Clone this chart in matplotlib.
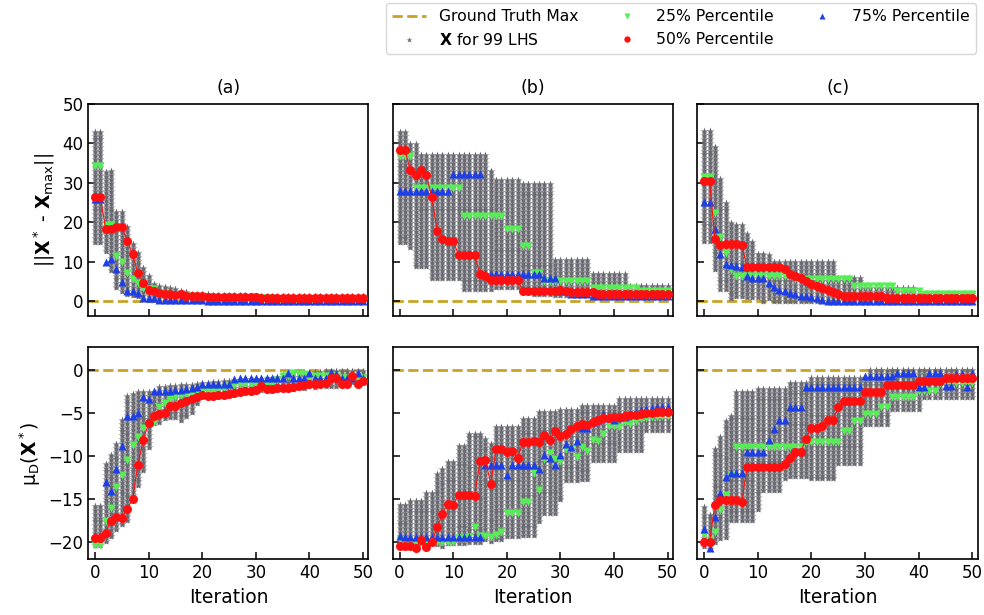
import numpy as np
import matplotlib
matplotlib.use("Agg")
import matplotlib.pyplot as plt

# iterations 0..50
iters = list(range(51))

# ---- top row: ||X* - X_max|| ----
a_top_lo = [14.9, 14.9, 12.3, 7.6, 2.6, 2.1, 1.5, 0.8, 0.5, 0.3, 0.2, 0.1] + [0.0] * 39
a_top_hi = [43.0, 43.0, 32.7, 33.0, 22.5, 22.5, 18.7, 14.5, 12.3, 8.5, 6.4, 4.3, 3.8, 3.6, 3.4, 3.0,
            2.6, 2.4, 1.9, 1.8, 1.7, 1.7, 1.6, 1.6, 1.6, 1.5, 1.5, 1.5, 1.5, 1.4, 1.4, 1.4, 1.4, 1.4,
            1.3, 1.3, 1.3, 1.3, 1.3, 1.3, 1.3, 1.2, 1.2, 1.2, 1.2, 1.2, 1.2, 1.2, 1.2, 1.2, 1.2]
a_top_p25 = [34.2, 34.2, 19.4, 19.4, 11.5, 10.0, 7.2, 5.5, 4.7, 3.4, 3.0, 3.0, 2.1, 1.9, 1.7, 1.5,
             1.4, 1.3, 1.2, 1.1, 1.0, 1.0, 0.9, 0.9, 0.9, 0.8, 0.8, 0.8, 0.8, 0.7, 0.7, 0.7, 0.7, 0.7,
             0.6, 0.6, 0.6, 0.6, 0.6, 0.6, 0.5, 0.5, 0.5, 0.5, 0.5, 0.5, 0.5, 0.5, 0.5, 0.5, 0.5]
a_top_p50 = [26.4, 26.4, 18.3, 18.3, 18.9, 18.9, 15.3, 11.9, 7.2, 4.7, 2.8, 2.6, 2.1, 1.9, 1.7, 1.5,
             1.7, 1.3, 1.3, 1.2, 1.2] + [1.1] * 10 + [0.9] * 10 + [0.7] * 10
a_top_p75 = [25.9, 25.9, 10.0, 10.6, 8.1, 4.9, 2.6, 2.6, 2.1, 0.85, 0.85, 0.7] + [0.2] * 9 + [0.1] * 15 + [0.0] * 15

b_top_lo = [14.9, 14.9, 13.0, 8.5, 8.5, 8.5] + [5.1] * 6 + [2.7] * 13 + [1.0] * 26
b_top_hi = [42.9, 42.9, 39.8, 39.8] + [37.0] * 13 + [33.0] + [30.6] * 5 + [29.8] * 6 + [10.5] * 7 + [6.8] * 7 + [3.8] * 8
b_top_p25 = [36.7] * 3 + [28.7] * 9 + [21.5] * 8 + [18.3] * 3 + [14.0] * 2 + [7.2] * 2 + [5.1] * 9 + [3.3] * 9 + [2.6] * 6
b_top_p50 = [38.3, 38.3, 33.2, 31.9, 33.2, 31.9, 26.4, 17.9, 15.7, 15.3, 15.3, 11.7, 11.7, 11.7, 11.7, 6.8, 6.5] \
    + [5.3] * 6 + [2.7] * 7 + [2.8, 2.6] + [2.4] * 5 + [1.9] * 14
b_top_p75 = [27.9] * 10 + [32.3] * 6 + [7.0] * 11 + [6.0] * 3 + [2.6] * 2 + [1.7] * 4 + [1.3] * 15

c_top_lo = [14.9, 14.9, 7.6, 2.6, 2.6] + [0.4] * 6 + [0.0] * 40
c_top_hi = [43.2, 43.2, 39.1, 31.0, 25.0, 19.7, 19.3, 19.3, 17.0, 15.0, 12.0, 12.0, 11.8] \
    + [10.0] * 12 + [6.0] * 5 + [3.4] * 10 + [1.9] * 11
c_top_p25 = [31.6, 31.6, 22.3, 16.3, 12.3, 8.0] + [6.4] * 11 + [5.6] * 11 + [3.8] * 8 + [2.6] * 5 + [1.8] * 10
c_top_p50 = [30.4, 30.4, 15.7, 14.3, 14.5, 14.5, 14.5, 14.3] + [8.7] * 7 \
    + [8.1, 7.0, 6.5, 6.0, 5.2, 4.4, 3.9, 3.3, 2.8, 2.2, 1.7] + [1.3] * 8 + [0.7] * 17
c_top_p75 = [25.1, 25.1, 18.3, 12.0, 9.4, 9.2, 9.0, 8.6, 6.3, 6.0, 6.0, 5.8, 4.5, 3.6, 2.8, 2.5,
             2.1, 1.9, 1.4, 1.2, 1.0, 0.8, 0.4] + [0.1] * 28

# ---- bottom row: mu_D(X*) ----
a_bot_lo = [-20.7, -20.7, -20.1, -19.5, -18.6, -18.0, -17.4, -14.7, -13.8, -11.8,
            -9.2, -6.3, -6.3, -5.9, -5.9, -5.9, -5.9, -5.8, -5.0, -4.0,
            -3.0, -3.0, -2.9, -2.9, -2.8, -2.8, -2.7, -2.7, -2.6, -2.6,
            -2.6, -2.5, -2.4, -2.4, -2.3, -2.3, -2.2, -2.2, -2.1, -2.1,
            -2.0, -2.0, -1.95, -1.9, -1.9, -1.9, -1.85, -1.85, -1.85, -1.85, -1.85]
a_bot_hi = [-15.8, -15.8, -10.9, -9.9, -8.6, -5.8, -3.0, -2.8, -2.6, -2.6,
            -2.6, -2.6, -2.0, -2.0, -1.9, -1.9, -1.8, -1.8, -1.7, -1.6,
            -1.5, -1.5, -1.4, -1.4, -1.3, -1.3, -1.2, -1.2, -1.1, -1.1,
            -1.0, -1.0, -0.9, -0.9, -0.8, -0.6, -0.5, -0.4, -0.4, -0.3,
            -0.3, -0.2, -0.2, -0.1, -0.1, -0.1, -0.1, -0.1, -0.1, -0.1, -0.1]
a_bot_p25 = [-20.3, -20.3, -17.6, -16.0, -13.65, -12.2, -10.5, -8.7, -7.8, -6.8,
             -6.3, -6.1, -4.3, -3.8, -3.4, -3.2, -3.0, -2.9, -2.8, -2.7,
             -2.6, -2.5, -2.4, -2.3, -2.1, -1.85, -1.8] + [-1.65] * 7 \
    + [-1.2, -0.7, -0.7, -0.4, -0.5, -0.5, -0.9] + [-0.7] * 5 + [-0.9] * 5
a_bot_p50 = [-19.5, -19.5, -18.9, -17.5, -17.1, -17.2, -16.2, -15.0, -11.0, -8.1,
             -6.2, -5.4, -5.1, -5.0, -4.15, -4.15, -3.8, -3.6, -3.4, -3.2,
             -2.9, -3.0, -3.0, -2.95, -2.9, -2.8, -2.7, -2.6, -2.5, -2.4,
             -2.3, -1.85, -2.2, -2.2, -2.15, -2.1, -2.05, -2.0, -1.9, -1.8,
             -1.65, -1.6, -1.6, -1.55, -0.9, -0.9, -1.6, -1.65, -0.7, -1.6, -1.3]
a_bot_p75 = [-19.3, -19.3, -13.0, -14.1, -11.5, -8.85, -5.4, -5.4, -5.0, -3.1,
             -3.4, -2.4, -2.5, -2.45, -2.4, -2.35, -2.3, -2.2, -2.1, -2.0,
             -1.65, -1.65, -1.6, -1.6, -1.6, -1.6, -1.1] + [-0.9] * 9 \
    + [-0.4, -0.9, -0.9, -0.9, -0.4, -0.9, -0.9, -0.9, -0.2, -0.5, -0.9, -0.9, -0.9, -0.4, -0.9]

b_bot_lo = [-20.5] * 11 + [-20.3] * 4 + [-20.1] * 5 + [-19.3] * 6 + [-17.5] + [-16.85] * 3 + [-15.1] \
    + [-12.8] * 5 + [-10.7] * 5 + [-9.35] * 5 + [-7.4] * 5
b_bot_hi = [-15.7, -15.7, -15.2, -15.2, -15.2, -14.3, -14.3, -12.1, -11.5, -10.7, -10.7, -8.85, -8.85,
            -7.4, -7.4, -7.4, -8.0, -8.6] + [-6.65] * 5 + [-5.7] * 3 + [-4.9] * 4 + [-4.7] * 4 \
    + [-4.15] * 7 + [-3.4] * 10
b_bot_p25 = [-19.8] + [-20.0] * 10 + [-19.5, -19.5, -19.4, -18.3, -19.3, -19.3, -19.4, -19.2, -18.8] \
    + [-16.65] * 3 + [-15.4] * 2 + [-12.0, -13.9, -10.3, -9.6, -10.3,
                                    -10.6, -9.2, -9.2, -10.1, -9.0, -9.4, -8.1, -8.2, -7.4, -6.5,
                                    -6.5, -6.6, -6.1, -6.3, -5.9, -5.7, -5.6, -5.5, -5.5, -5.4, -5.3]
b_bot_p50 = [-20.4, -20.4, -20.5, -20.7, -19.8, -20.6, -20.0, -18.3, -16.7, -15.6,
             -15.65, -14.5, -14.5, -14.5, -14.6, -10.6, -10.5, -13.2, -9.2, -9.2,
             -9.5, -9.4, -10.2, -8.4, -8.4, -8.2, -8.4, -7.6, -8.1, -7.15,
             -7.7, -7.5, -6.85, -6.5, -6.3, -6.4, -6.1, -5.8, -5.6, -5.6,
             -5.5, -5.5, -5.3, -5.2, -5.2, -5.1, -5.0, -5.0, -4.9, -4.9, -4.85]
b_bot_p75 = [-19.3] + [-19.4] * 15 + [-11.0] * 4 + [-12.2] + [-11.0] * 5 \
    + [-11.5, -9.85, -10.2, -11.1, -9.9, -8.6, -9.0, -8.2, -6.7, -6.7, -6.0, -5.8, -5.1,
       -5.6, -5.8, -5.5, -5.5, -5.1, -4.85, -4.65, -4.5, -4.4, -4.3, -4.3, -4.3]

c_bot_lo = [-20.5, -21.0, -20.1, -19.9, -19.7] + [-17.6] * 5 + [-16.3] + [-14.3] * 4 + [-12.6] * 10 \
    + [-10.9] * 5 + [-6.65] * 5 + [-4.5] * 6 + [-3.4] * 10
c_bot_hi = [-15.9, -16.8, -9.15, -7.8, -5.9, -5.3] + [-2.6] * 4 + [-2.2] * 6 + [-1.5] * 4 + [-0.9] * 11 + [0.0] * 20
c_bot_p25 = [-19.2, -19.8, -18.8, -16.3, -14.5, -12.2] + [-8.9] * 13 + [-8.4] * 7 + [-7.1] * 2 + [-5.9] * 2 \
    + [-5.1] * 3 + [-4.3] * 2 + [-3.2] * 5 + [-2.4] * 4 + [-1.5] * 7
c_bot_p50 = [-20.0, -20.0, -15.7, -15.1, -15.1, -15.1, -15.1, -15.4] + [-11.3] * 7 \
    + [-10.9, -10.2, -9.5, -9.5, -8.0, -6.7, -6.7, -6.5, -5.8, -5.8, -4.35] \
    + [-3.65] * 4 + [-2.6] * 4 + [-1.7] * 6 + [-1.3] * 5 + [-0.9] * 6
c_bot_p75 = [-18.5, -20.7, -17.1, -14.3, -12.4, -12.0, -12.0, -12.0] + [-9.5] * 4 + [-8.1, -6.9, -5.8, -5.8] \
    + [-4.35] * 3 + [-2.0] * 11 + [-0.7] * 6 + [-0.4] * 4 \
    + [-2.0, -2.0, -0.4, -0.4, -0.4, -1.85, -1.85, -0.5, -0.5, -1.95, -0.4]

ground_truth_max = 0.0
titles = ["(a)", "(b)", "(c)"]

panels = [
    [(a_top_lo, a_top_hi, a_top_p25, a_top_p50, a_top_p75),
     (b_top_lo, b_top_hi, b_top_p25, b_top_p50, b_top_p75),
     (c_top_lo, c_top_hi, c_top_p25, c_top_p50, c_top_p75)],
    [(a_bot_lo, a_bot_hi, a_bot_p25, a_bot_p50, a_bot_p75),
     (b_bot_lo, b_bot_hi, b_bot_p25, b_bot_p50, b_bot_p75),
     (c_bot_lo, c_bot_hi, c_bot_p25, c_bot_p50, c_bot_p75)],
]
star_step = [1.0, 0.45]  # vertical spacing of the LHS stars per row

GOLD = "#c9a227"
GRAY = "#6a6a72"
GREEN = "#55ee55"
BLUE = "#1f3fe6"
RED = "#ff1010"

fig = plt.figure(figsize=(9.84, 6.15), dpi=100)
axes = fig.subplots(2, 3, sharex=True, sharey="row")
fig.subplots_adjust(left=0.0897, right=0.9936, bottom=0.0906, top=0.8309, wspace=0.087, hspace=0.146)

for r in range(2):
    for c in range(3):
        ax = axes[r, c]
        lo, hi, p25, p50, p75 = panels[r][c]
        sx, sy = [], []
        for i, (l, h) in enumerate(zip(lo, hi)):
            ys = np.arange(h, l - 1e-9, -star_step[r])
            sx += [iters[i]] * len(ys)
            sy += list(ys)
        ax.axhline(ground_truth_max, color=GOLD, ls="--", lw=2, zorder=1, label="Ground Truth Max")
        ax.plot(sx, sy, ls="none", marker="*", ms=6, color=GRAY, mec="none", zorder=2,
                label=r"$\mathbf{X}$ for 99 LHS")
        ax.plot(iters, p25, ls="none", marker="v", ms=6, color=GREEN, mec="none", zorder=3,
                label="25% Percentile")
        ax.plot(iters, p75, ls="none", marker="^", ms=6, color=BLUE, mec="none", zorder=4,
                label="75% Percentile")
        ax.plot(iters, p50, ls="-", lw=0.8, color=RED, zorder=5)
        ax.plot(iters, p50, ls="none", marker="o", ms=6.5, color=RED, mec="none", zorder=5,
                label="50% Percentile")
        ax.tick_params(direction="in", length=5, width=1.1, labelsize=12, top=False, right=False)
        for s in ax.spines.values():
            s.set_linewidth(1.2)
        if r == 0:
            ax.set_title(titles[c], fontsize=12.5, pad=8)
        else:
            ax.set_xlabel("Iteration", fontsize=13.5)

axes[0, 0].set_xlim(-1.25, 51)
axes[0, 0].set_xticks([0, 10, 20, 30, 40, 50])
axes[0, 0].set_ylim(-3.8, 50)
axes[0, 0].set_yticks([0, 10, 20, 30, 40, 50])
axes[1, 0].set_ylim(-22, 2.65)
axes[1, 0].set_yticks([-20, -15, -10, -5, 0])
axes[0, 0].set_ylabel(r"$||\mathbf{X}^*$ - $\mathbf{X}_{\rm max}||$", fontsize=13.5)
axes[1, 0].set_ylabel("μ$_{\\rm D}$($\\mathbf{X}^*$)", fontsize=13.5)

h, l = axes[0, 0].get_legend_handles_labels()
order = ["Ground Truth Max", r"$\mathbf{X}$ for 99 LHS", "25% Percentile", "50% Percentile", "75% Percentile"]
hd = dict(zip(l, h))
fig.legend([hd[k] for k in order], order, loc="upper right", bbox_to_anchor=(0.992, 0.995),
           borderaxespad=0, ncol=3, fontsize=11.25, handlelength=2.2, markerscale=0.7)

fig.savefig("out.png", dpi=100)
